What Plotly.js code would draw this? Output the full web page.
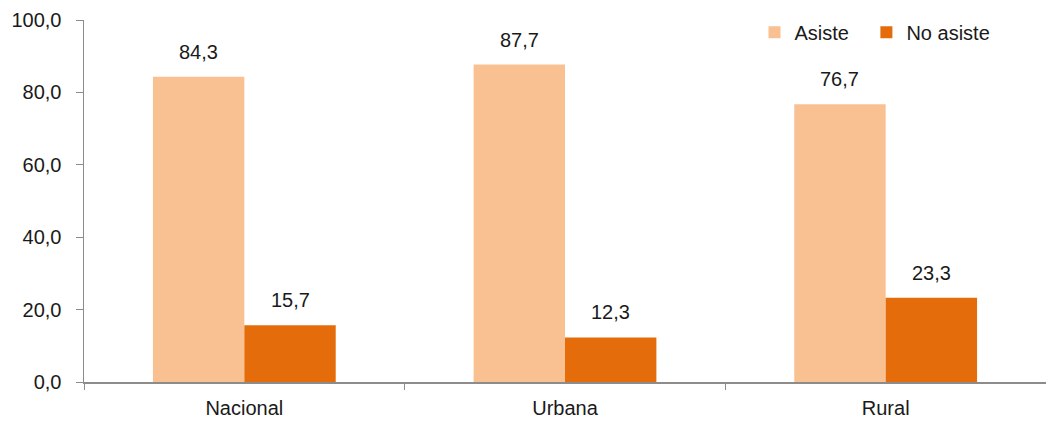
<!DOCTYPE html>
<html><head><meta charset="utf-8">
<script src="https://cdn.plot.ly/plotly-3.0.1.min.js"></script>
<style>html,body{margin:0;padding:0;background:#fff}#c{width:1046px;height:425px}</style>
</head><body><div id="c"></div>
<script>
const categories = ['Nacional', 'Urbana', 'Rural'];
const asiste = [84.3, 87.7, 76.7];
const noAsiste = [15.7, 12.3, 23.3];
const seriesNames = ['Asiste', 'No asiste'];
const yTicks = [0, 20, 40, 60, 80, 100];

const font = {family: 'Liberation Sans, Arial, sans-serif', size: 20, color: '#1a1a1a'};
const traces = [
  {type: 'bar', name: seriesNames[0], x: categories, y: asiste, marker: {color: '#F9C192'},
   offsetgroup: 'a', legend: 'legend'},
  {type: 'bar', name: seriesNames[1], x: categories, y: noAsiste, marker: {color: '#E46C0A'},
   offsetgroup: 'b', legend: 'legend2'}
];
// value labels above bars, placed via data coordinates
const annotations = [];
const bw = 0.57 / 2;
categories.forEach((c, i) => {
  [asiste, noAsiste].forEach((arr, k) => {
    annotations.push({
      x: i + (k === 0 ? -bw / 2 : bw / 2), y: arr[i], xref: 'x', yref: 'y',
      text: arr[i].toFixed(1).replace('.', ','), showarrow: false,
      yanchor: 'bottom', yshift: 12, font: font
    });
  });
});
const legendBase = {orientation: 'h', y: 1.02, xanchor: 'left', yanchor: 'top', font: font};
const layout = {
  width: 1046, height: 425,
  margin: {l: 84, r: 0, t: 20, b: 43},
  separators: ',.',
  font: font,
  paper_bgcolor: '#fff', plot_bgcolor: '#fff',
  barmode: 'group', bargap: 0.43, bargroupgap: 0,
  showlegend: true,
  annotations: annotations,
  legend: Object.assign({x: 0.697}, legendBase),
  legend2: Object.assign({x: 0.8133}, legendBase),
  xaxis: {showline: true, linecolor: '#8c8c8c', linewidth: 1.5, ticks: 'outside',
          tickson: 'boundaries', ticklen: 6, tickcolor: '#8c8c8c', showgrid: false, zeroline: false,
          tickfont: font, ticklabelstandoff: 7},
  yaxis: {range: [0, 100], tickvals: yTicks, tickformat: '.1f', showline: true,
          linecolor: '#8c8c8c', linewidth: 1.5, ticks: 'outside', ticklen: 7, tickcolor: '#8c8c8c',
          showgrid: false, zeroline: false, tickfont: font, ticklabelstandoff: 10}
};
Plotly.newPlot('c', traces, layout, {displayModeBar: false, staticPlot: true});
</script></body></html>
